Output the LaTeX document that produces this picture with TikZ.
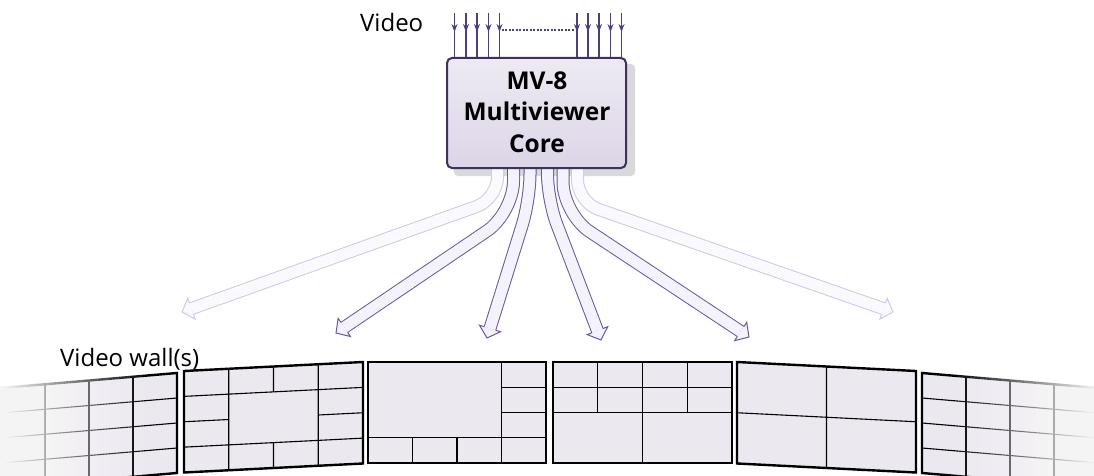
\documentclass[tikz,border=0pt]{standalone}
\usepackage{fontspec}
\setmainfont{Open Sans}
\usetikzlibrary{arrows.meta,calc}
\definecolor{inpurple}{HTML}{4E3F78}
\definecolor{darkedge}{HTML}{6B55A3}
\definecolor{darkfill}{HTML}{F4F2FA}
\definecolor{lightedge}{HTML}{D0C8E4}
\definecolor{lightfill}{HTML}{FAF9FD}
\definecolor{boxedge}{HTML}{40305E}
\definecolor{boxtop}{HTML}{EEEAF3}
\definecolor{boxbot}{HTML}{DCD5E7}
\definecolor{scrfill}{HTML}{EBE8F0}
\definecolor{shadowc}{HTML}{D9D9D9}
% #1 colour prefix, #2 start, #3 corner, #4 tip, #5 corner radius
\newcommand\blockarrow[5]{%
  \coordinate (hb) at ($(#4)!10pt!(#3)$);
  \draw[#1edge, double=#1fill, line width=1pt, double distance=11pt, rounded corners=#5] (#2) -- (#3) -- (hb);
  \fill[#1fill] ($(hb)!6pt!90:(#4)$) -- ($(hb)!11pt!90:(#4)$) -- (#4) -- ($(hb)!11pt!-90:(#4)$) -- ($(hb)!6pt!-90:(#4)$) -- cycle;
  \draw[#1edge, line width=1pt, line join=miter] ($(hb)!6pt!90:(#4)$) -- ($(hb)!11pt!90:(#4)$) -- (#4) -- ($(hb)!11pt!-90:(#4)$) -- ($(hb)!6pt!-90:(#4)$);
}
\newcommand\scrframe{%
  \fill[scrfill] (0,0) -- (1,0) -- (1,1) -- (0,1) -- cycle;
}
\newcommand\scrborder{%
  \draw[scrb] (0,0) -- (1,0) -- (1,1) -- (0,1) -- cycle;
}
\begin{document}
\begin{tikzpicture}[x=1pt, y=-1pt,
  scrl/.style={line width=1.1pt, black},
  scrb/.style={line width=2.4pt, black, line join=miter},
  inline/.style={inpurple, line width=1.3pt},
  intip/.style={inpurple, line width=1.3pt, -{Stealth[length=8pt, width=6pt]}},
  boxstyle/.style={draw=boxedge, line width=2pt, rounded corners=5pt, top color=boxtop, bottom color=boxbot, minimum width=179pt, minimum height=110pt, inner sep=0pt},
  label/.style={font=\fontsize{24}{29}\selectfont, inner sep=0pt}]
\useasboundingbox (0,0) rectangle (1094,476);
\clip (0,0) rectangle (1094,476);

% ---------- core box shadow ----------
\node[boxstyle, draw=none, top color=white, bottom color=white] (box) at (536.5,113) {};
\fill[shadowc, rounded corners=4pt] ($(box.south west)+(8,7)$) rectangle ($(box.north east)+(8,7)$);

% ---------- output arrows ----------
\coordinate (s1) at (497.5,150); \coordinate (c1) at (497.5,199); \coordinate (t1) at (182,312);
\coordinate (s2) at (513.5,150); \coordinate (c2) at (513.5,213); \coordinate (t2) at (336,333);
\coordinate (s3) at (530,150);   \coordinate (c3) at (530,200);   \coordinate (t3) at (487,338);
\coordinate (s4) at (547.5,150); \coordinate (c4) at (547.5,200); \coordinate (t4) at (601,340);
\coordinate (s5) at (563,150);   \coordinate (c5) at (563,214);   \coordinate (t5) at (749,337);
\coordinate (s6) at (577.5,150); \coordinate (c6) at (577.5,202); \coordinate (t6) at (893,312);
\blockarrow{light}{s1}{c1}{t1}{22pt}
\blockarrow{light}{s6}{c6}{t6}{22pt}
\blockarrow{dark}{s2}{c2}{t2}{32pt}
\blockarrow{dark}{s5}{c5}{t5}{32pt}
\blockarrow{dark}{s3}{c3}{t3}{26pt}
\blockarrow{dark}{s4}{c4}{t4}{26pt}

% ---------- core box ----------
\node[boxstyle] (box) at (536.5,113) {};
\node[font=\bfseries\fontsize{24.5}{31.5}\selectfont, align=center, inner sep=0pt] (core) at (537,112) {MV-8\\Multiviewer\\Core};

% ---------- video inputs ----------
\foreach \n/\x in {1/454.5, 2/466, 3/477, 4/488.5, 5/499.5, 6/577, 7/588, 8/599, 9/610.5, 10/621.5} {
  \coordinate (v\n) at (\x,13);
  \draw[inline] (v\n) -- (v\n |- box.north);
  \draw[intip] (v\n) -- ++(0,19);
}
\draw[inpurple, line width=1.1pt, dash pattern=on 2pt off 1.5pt] ($(v5)+(2,17)$) -- ($(v6)+(-2,17)$);
\node[label, anchor=base west] (video) at (360,32) {Video};

% ---------- video wall ----------
% screen 1 (faded, left)
\begin{scope}[shift={(1,388)}, x={(176pt,15pt)}, y={(0pt,-100pt)}]
  \scrframe
  \foreach \t in {0.25,0.5,0.75} {\draw[scrl] (\t,0) -- (\t,1); \draw[scrl] (0,\t) -- (1,\t);}
  \scrborder
\end{scope}
\foreach \i in {1,...,45} {
  \fill[white, fill opacity=0.085] (-5,360) rectangle ({155*0.915^\i},480);
}
% screen 2
\begin{scope}[shift={(184,371)}, x={(179pt,9pt)}, y={(0pt,-101.5pt)}]
  \scrframe
  \draw[scrl] (0,0.25) -- (1,0.25) (0,0.75) -- (1,0.75) (0,0.5) -- (0.25,0.5) (0.75,0.5) -- (1,0.5)
              (0.25,0) -- (0.25,1) (0.75,0) -- (0.75,1) (0.5,0) -- (0.5,0.25) (0.5,0.75) -- (0.5,1);
  \scrborder
\end{scope}
% screen 3
\begin{scope}[shift={(368,362)}, x={(178pt,0pt)}, y={(0pt,-101pt)}]
  \scrframe
  \draw[scrl] (0.75,0) -- (0.75,1) (0.75,0.25) -- (1,0.25) (0.75,0.5) -- (1,0.5) (0,0.75) -- (1,0.75)
              (0.25,0.75) -- (0.25,1) (0.5,0.75) -- (0.5,1);
  \scrborder
\end{scope}
% screen 4
\begin{scope}[shift={(553,362)}, x={(179pt,0pt)}, y={(0pt,-101pt)}]
  \scrframe
  \draw[scrl] (0,0.25) -- (1,0.25) (0,0.5) -- (1,0.5) (0.5,0) -- (0.5,1) (0.25,0) -- (0.25,0.5) (0.75,0) -- (0.75,0.5);
  \scrborder
\end{scope}
% screen 5
\begin{scope}[shift={(737,362)}, x={(179pt,-9pt)}, y={(0pt,-101.5pt)}]
  \scrframe
  \draw[scrl] (0.5,0) -- (0.5,1) (0,0.5) -- (1,0.5);
  \scrborder
\end{scope}
% screen 6 (faded, right)
\begin{scope}[shift={(922,373)}, x={(176pt,-15pt)}, y={(0pt,-100pt)}]
  \scrframe
  \foreach \t in {0.25,0.5,0.75} {\draw[scrl] (\t,0) -- (\t,1); \draw[scrl] (0,\t) -- (1,\t);}
  \scrborder
\end{scope}
\foreach \i in {1,...,45} {
  \fill[white, fill opacity=0.085] ({1100-155*0.915^\i},360) rectangle (1105,480);
}

\node[label, anchor=base west] (wall) at (60,366) {Video wall(s)};
\end{tikzpicture}
\end{document}
